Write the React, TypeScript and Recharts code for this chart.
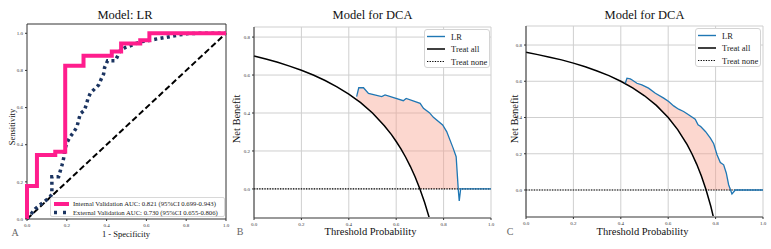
import React from 'react'
import {
  ComposedChart,
  Line,
  Area,
  XAxis,
  YAxis,
  CartesianGrid,
  ReferenceArea
} from 'recharts'

const FONT = '"Liberation Serif", "DejaVu Serif", serif'

// ── ROC (panel A) ──────────────────────────────────────────────
const internalFpr = [0, 0, 0.05, 0.05, 0.142, 0.142, 0.192, 0.192, 0.284, 0.284, 0.426, 0.426, 0.473, 0.473, 0.569, 0.569, 0.615, 0.615, 1.0]
const internalTpr = [0, 0.178, 0.178, 0.344, 0.344, 0.362, 0.362, 0.825, 0.825, 0.879, 0.879, 0.902, 0.902, 0.945, 0.945, 0.963, 0.963, 1.0, 1.0]

const externalFpr = [0, 0.042, 0.067, 0.092, 0.114, 0.125, 0.125, 0.159, 0.167, 0.176, 0.184, 0.189, 0.201, 0.217, 0.237, 0.251, 0.259, 0.268, 0.288, 0.298, 0.306, 0.318, 0.343, 0.36, 0.373, 0.385, 0.39, 0.405, 0.443, 0.452, 0.468, 0.493, 0.527, 0.569, 0.602, 0.644, 0.694, 0.753, 0.803, 0.87, 1.0]
const externalTpr = [0, 0.055, 0.077, 0.098, 0.116, 0.134, 0.228, 0.228, 0.258, 0.291, 0.326, 0.371, 0.412, 0.442, 0.472, 0.496, 0.531, 0.567, 0.585, 0.615, 0.647, 0.677, 0.704, 0.722, 0.754, 0.781, 0.816, 0.852, 0.852, 0.87, 0.906, 0.923, 0.936, 0.954, 0.959, 0.968, 0.977, 0.989, 0.998, 1.0, 1.0]

const chanceX = [0, 1]
const chanceY = [0, 1]

const unitTicks = [0, 0.2, 0.4, 0.6, 0.8, 1.0]
const nbTicks = [0, 0.2, 0.4, 0.6, 0.8]

// ── DCA (panel B) ──────────────────────────────────────────────
const bAllT = [0, 0.05, 0.1, 0.15, 0.2, 0.25, 0.3, 0.35, 0.4, 0.45, 0.5, 0.55, 0.58, 0.6, 0.62, 0.64, 0.66, 0.68, 0.7, 0.72, 0.74, 0.76]
const bAllNb = [0.7, 0.684, 0.667, 0.647, 0.625, 0.6, 0.571, 0.538, 0.5, 0.455, 0.4, 0.333, 0.286, 0.25, 0.211, 0.167, 0.118, 0.063, 0.0, -0.071, -0.154, -0.25]

const bLrT = [0.433, 0.442, 0.462, 0.483, 0.539, 0.553, 0.63, 0.642, 0.701, 0.715, 0.74, 0.757, 0.796, 0.813, 0.839, 0.853, 0.862, 0.866, 0.872, 1.0]
const bLrNb = [0.486, 0.533, 0.533, 0.503, 0.486, 0.495, 0.465, 0.477, 0.451, 0.425, 0.402, 0.377, 0.337, 0.302, 0.219, 0.17, -0.005, -0.063, 0.0, 0.0]

// ── DCA (panel C) ──────────────────────────────────────────────
const cAllT = [0, 0.05, 0.1, 0.15, 0.2, 0.25, 0.3, 0.35, 0.4, 0.45, 0.5, 0.55, 0.6, 0.64, 0.68, 0.7, 0.72, 0.74, 0.76, 0.78, 0.8]
const cAllNb = [0.76, 0.747, 0.733, 0.718, 0.7, 0.68, 0.657, 0.631, 0.6, 0.564, 0.52, 0.467, 0.4, 0.333, 0.25, 0.2, 0.143, 0.077, 0.0, -0.091, -0.2]

const cLrT = [0.419, 0.426, 0.44, 0.448, 0.468, 0.489, 0.517, 0.546, 0.581, 0.602, 0.623, 0.644, 0.665, 0.686, 0.714, 0.726, 0.737, 0.757, 0.778, 0.792, 0.806, 0.82, 0.834, 0.845, 0.855, 0.869, 0.883, 1.0]
const cLrNb = [0.589, 0.617, 0.613, 0.607, 0.589, 0.58, 0.562, 0.534, 0.507, 0.488, 0.464, 0.446, 0.433, 0.415, 0.391, 0.36, 0.35, 0.323, 0.286, 0.255, 0.195, 0.152, 0.139, 0.094, 0.029, -0.022, 0.0, 0.0]

const noneT = [0, 1]
const noneNb = [0, 0]

const PINK = '#ff1d8d'
const NAVY = '#1b3461'
const BLUE = '#1f77b4'

const zip = (xs: number[], ys: number[]) => xs.map((x, i) => ({ x, y: ys[i] }))

const lerp = (xs: number[], ys: number[], t: number) => {
  for (let i = 1; i < xs.length; i++) {
    if (t <= xs[i]) {
      const f = (t - xs[i - 1]) / (xs[i] - xs[i - 1])
      return ys[i - 1] + f * (ys[i] - ys[i - 1])
    }
  }
  return ys[ys.length - 1]
}

// shaded gap between the model curve and the better of treat-all / treat-none
const buildBand = (lrT: number[], lrNb: number[], allT: number[], allNb: number[]) => {
  const lo = lrT[0]
  const hi = lrT[lrT.length - 1]
  const ts = Array.from(new Set([...lrT, ...allT.filter(t => t > lo && t < hi)])).sort((a, b) => a - b)
  return ts.map(t => {
    const base = Math.max(lerp(allT, allNb, t), 0)
    const top = Math.max(lerp(lrT, lrNb, t), base)
    return { x: t, band: [base, top] }
  })
}

const fmt = (v: number) => v.toFixed(1)
const tickStyle = { fontSize: 5, fill: '#333', fontFamily: FONT }

const Caption = ({ x, y, size, text, rotate = 0, color = '#111' }: any) => (
  <div
    style={{
      position: 'absolute',
      left: x,
      top: y,
      transform: `translate(-50%, -50%) rotate(${rotate}deg)`,
      fontFamily: FONT,
      fontSize: size,
      color,
      whiteSpace: 'nowrap',
      lineHeight: 1
    }}
  >
    {text}
  </div>
)

const RocPanel = () => (
  <div style={{ position: 'absolute', left: 0, top: 0 }}>
    <ComposedChart width={240} height={249} margin={{ top: 24, right: 14, bottom: 20, left: 17 }}>
      <XAxis type="number" dataKey="x" domain={[0, 1]} ticks={unitTicks} tickFormatter={fmt} interval={0}
        height={10} tick={tickStyle} tickSize={2} axisLine={false} tickLine={{ stroke: '#333' }} />
      <YAxis type="number" domain={[0, 1.05]} ticks={unitTicks} tickFormatter={fmt} interval={0}
        width={10} tick={tickStyle} tickSize={2} axisLine={false} tickLine={{ stroke: '#333' }} />
      <ReferenceArea x1={0} x2={1} y1={0} y2={1.05} fill="none" stroke="#333" strokeWidth={1} />
      <Line data={zip(chanceX, chanceY)} dataKey="y" stroke="#000" strokeWidth={2}
        strokeDasharray="6 3" dot={false} isAnimationActive={false} />
      <Line data={zip(externalFpr, externalTpr)} dataKey="y" stroke={NAVY} strokeWidth={3.5}
        strokeDasharray="3 3.4" dot={false} isAnimationActive={false} />
      <Line data={zip(internalFpr, internalTpr)} dataKey="y" stroke={PINK} strokeWidth={4}
        dot={false} isAnimationActive={false} />
    </ComposedChart>
    <div style={{
      position: 'absolute', left: 50, top: 197, width: 175, height: 20,
      background: '#fff', border: '1px solid #d8d8d8', borderRadius: 2, boxSizing: 'border-box'
    }}>
      <svg width={175} height={20} style={{ position: 'absolute', left: 0, top: 0 }}>
        <line x1={3} x2={18} y1={6} y2={6} stroke={PINK} strokeWidth={4} />
        <line x1={3} x2={18} y1={14.5} y2={14.5} stroke={NAVY} strokeWidth={3.5} strokeDasharray="3 6" />
        <text x={22} y={8.3} fontSize={6.7} fontFamily={FONT} fill="#222">Internal Validation AUC: 0.821 (95%CI 0.699-0.943)</text>
        <text x={22} y={16.8} fontSize={6.7} fontFamily={FONT} fill="#222">External Validation AUC: 0.730 (95%CI 0.655-0.806)</text>
      </svg>
    </div>
    <Caption x={126} y={234} size={8.5} text="1 - Specificity" />
    <Caption x={125} y={15} size={12.5} text="Model: LR" />
    <Caption x={12} y={127} size={8.5} text="Sensitivity" rotate={-90} />
    <Caption x={15} y={233} size={10} text="A" color="#666" />
  </div>
)

const DcaLegend = ({ left, top }: { left: number; top: number }) => (
  <div style={{
    position: 'absolute', left, top, width: 66, height: 39,
    background: '#fff', border: '1px solid #d4d4d4', borderRadius: 3, boxSizing: 'border-box'
  }}>
    <svg width={66} height={39} style={{ position: 'absolute', left: 0, top: 0 }}>
      <line x1={2} x2={20} y1={6.5} y2={6.5} stroke={BLUE} strokeWidth={1.4} />
      <line x1={2} x2={20} y1={19} y2={19} stroke="#000" strokeWidth={1.5} />
      <line x1={2} x2={20} y1={31.5} y2={31.5} stroke="#000" strokeWidth={1.2} strokeDasharray="1.3 1.3" />
      <text x={26} y={9.5} fontSize={8.5} fontFamily={FONT} fill="#222">LR</text>
      <text x={26} y={22} fontSize={8.5} fontFamily={FONT} fill="#222">Treat all</text>
      <text x={26} y={34.5} fontSize={8.5} fontFamily={FONT} fill="#222">Treat none</text>
    </svg>
  </div>
)

const DcaPanel = ({ left, width, rightPad, top, bottomPad, domain, allT, allNb, lrT, lrNb, legendLeft, legendTop, letter, letterX }: any) => {
  const band = buildBand(lrT, lrNb, allT, allNb)
  const cx = left + 24 + (width - 24 - rightPad) / 2
  return (
    <div style={{ position: 'absolute', left, top: 0 }}>
      <ComposedChart width={width} height={249} margin={{ top, right: rightPad, bottom: bottomPad, left: 14 }}>
        <CartesianGrid stroke="#cfcfcf" strokeWidth={1} />
        <XAxis type="number" dataKey="x" domain={[0, 1]} ticks={unitTicks} tickFormatter={fmt} interval={0}
          height={10} tick={tickStyle} tickSize={2} axisLine={{ stroke: '#9a9a9a', strokeWidth: 2 }}
          tickLine={{ stroke: '#333' }} />
        <YAxis type="number" domain={domain} ticks={nbTicks} tickFormatter={fmt} interval={0} allowDataOverflow
          width={10} tick={tickStyle} tickSize={2} axisLine={{ stroke: '#333' }} tickLine={{ stroke: '#333' }} />
        <Area data={band} dataKey="band" type="linear" stroke="none" fill="#f8a08c" fillOpacity={0.42}
          isAnimationActive={false} />
        <Line data={zip(noneT, noneNb)} dataKey="y" stroke="#000" strokeWidth={1.2}
          strokeDasharray="1.3 1.3" dot={false} isAnimationActive={false} />
        <Line data={zip(allT, allNb)} dataKey="y" stroke="#000" strokeWidth={1.5}
          dot={false} isAnimationActive={false} />
        <Line data={zip(lrT, lrNb)} dataKey="y" stroke={BLUE} strokeWidth={1.3}
          dot={false} isAnimationActive={false} />
      </ComposedChart>
      <DcaLegend left={legendLeft - left} top={legendTop} />
      <Caption x={cx - left} y={15} size={12.5} text="Model for DCA" />
      <Caption x={cx - left - 2} y={232} size={10.5} text="Threshold Probability" />
      <Caption x={letterX - left} y={232} size={10} text={letter} color="#666" />
    </div>
  )
}

export default function App() {
  return (
    <div style={{ position: 'absolute', left: 0, top: 0, width: 771, height: 249, background: '#fff', overflow: 'hidden' }}>
      <RocPanel />
      <DcaPanel left={230} width={275} rightPad={14} top={27} bottomPad={21} domain={[-0.153, 0.853]}
        allT={bAllT} allNb={bAllNb} lrT={bLrT} lrNb={bLrNb}
        legendLeft={424} legendTop={29} letter="B" letterX={240} />
      <DcaPanel left={502} width={269} rightPad={8} top={26} bottomPad={22} domain={[-0.149, 0.905]}
        allT={cAllT} allNb={cAllNb} lrT={cLrT} lrNb={cLrNb}
        legendLeft={695} legendTop={28} letter="C" letterX={510} />
      <Caption x={237} y={119} size={10.5} text="Net Benefit" rotate={-90} />
      <Caption x={515} y={119} size={10.5} text="Net Benefit" rotate={-90} />
    </div>
  )
}
